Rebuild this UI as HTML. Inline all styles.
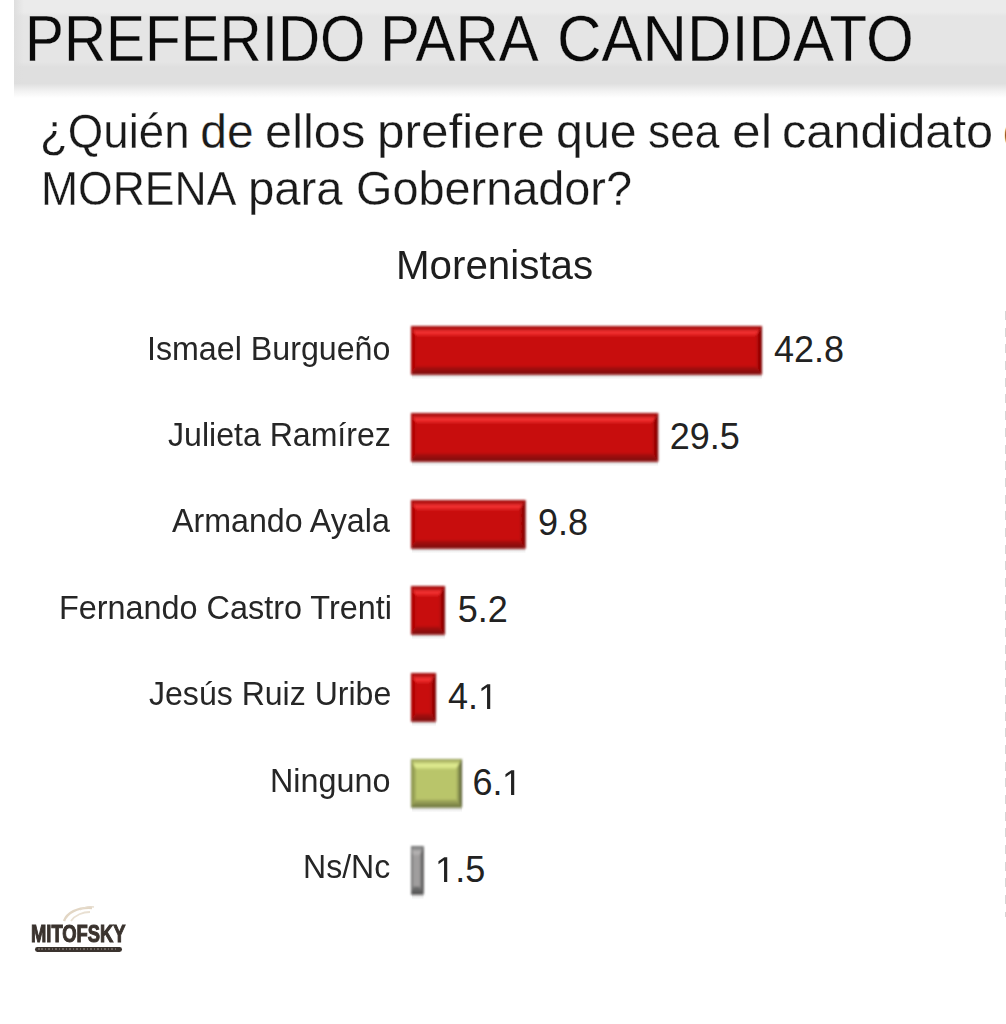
<!DOCTYPE html>
<html><head><meta charset="utf-8"><style>
html,body{margin:0;padding:0;background:#fff;}
body{width:1006px;height:1024px;position:relative;overflow:hidden;font-family:"Liberation Sans",sans-serif;}
.band{position:absolute;left:13.5px;top:0;width:1000px;height:84px;background:linear-gradient(#ebebeb 0,#ebebeb 12px,#e5e5e5 16px,#e5e5e5 62px,#dfdfdf 67px,#dfdfdf 84px);}
.band:before{content:"";position:absolute;left:0;top:0;width:10px;height:84px;background:linear-gradient(90deg,#dedede,rgba(230,230,230,0));}
.shadow{position:absolute;left:13.5px;top:84px;width:1000px;height:14px;background:linear-gradient(#e0e0e0,#f2f2f2 50%,#fff);}
.bar{position:absolute;}
.r{background:linear-gradient(#a80a0a 0px,#d21a1a 2px,#f23030 5px,#e42222 9px,#c80808 13px,#c80808 calc(100% - 12px),#b31010 calc(100% - 7px),#8c0a0a calc(100% - 2px),#700808 100%);}
.r:before{content:"";position:absolute;left:0;top:0;bottom:0;width:4px;background:linear-gradient(90deg,#8a0606,rgba(200,8,8,0));}
.r:after{content:"";position:absolute;right:0;top:0;bottom:0;width:4px;background:linear-gradient(270deg,#7a0606,rgba(200,8,8,0));}
.g{background:linear-gradient(#a8b060 0px,#c8d478 2px,#e2ee92 5px,#d4e080 9px,#b9c56a 13px,#b9c56a calc(100% - 12px),#a0aa58 calc(100% - 7px),#80884a calc(100% - 2px),#6e7640 100%);}
.g:before{content:"";position:absolute;left:0;top:0;bottom:0;width:4px;background:linear-gradient(90deg,#8e9650,rgba(185,197,106,0));}
.g:after{content:"";position:absolute;right:0;top:0;bottom:0;width:5px;background:linear-gradient(270deg,#4c5230,rgba(185,197,106,0));}
.k{background:linear-gradient(90deg,#6e6e6e 0,#8a8a8a 2px,#9c9a9a 3px,#9a9898 6px,#5a5a5a 8px,#444 100%);}
.k:after{content:'';position:absolute;left:0;right:0;bottom:0;height:4px;background:linear-gradient(rgba(60,60,60,0),rgba(60,60,60,0.7));}
.bs{position:absolute;height:5px;background:linear-gradient(rgba(0,0,0,0.12),rgba(0,0,0,0));}
</style></head><body>
<div class="band"></div><div class="shadow"></div>
<div style="position:absolute;top:6.92px;font-size:64px;line-height:64px;color:#0a0a0a;white-space:nowrap;left:24.79px;transform:scaleX(0.9118);transform-origin:0 0;-webkit-text-stroke:0.3px #e5e5e5;">PREFERIDO</div>
<div style="position:absolute;top:6.92px;font-size:64px;line-height:64px;color:#0a0a0a;white-space:nowrap;left:380.46px;transform:scaleX(0.9357);transform-origin:0 0;-webkit-text-stroke:0.3px #e5e5e5;">PARA</div>
<div style="position:absolute;top:6.92px;font-size:64px;line-height:64px;color:#0a0a0a;white-space:nowrap;left:557.22px;transform:scaleX(0.9616);transform-origin:0 0;-webkit-text-stroke:0.3px #e5e5e5;">CANDIDATO</div>
<div style="position:absolute;top:107.57px;font-size:48px;line-height:48px;color:#1a1a1a;white-space:nowrap;left:40.38px;transform:scaleX(0.9505);transform-origin:0 0;-webkit-text-stroke:0.3px #fff;">¿Quién</div>
<div style="position:absolute;top:107.57px;font-size:48px;line-height:48px;color:#1a1a1a;white-space:nowrap;left:200.31px;transform:scaleX(1.0000);transform-origin:0 0;-webkit-text-stroke:0.3px #fff;">de</div>
<div style="position:absolute;top:107.57px;font-size:48px;line-height:48px;color:#1a1a1a;white-space:nowrap;left:264.88px;transform:scaleX(1.0164);transform-origin:0 0;-webkit-text-stroke:0.3px #fff;">ellos</div>
<div style="position:absolute;top:107.57px;font-size:48px;line-height:48px;color:#1a1a1a;white-space:nowrap;left:377.03px;transform:scaleX(1.0307);transform-origin:0 0;-webkit-text-stroke:0.3px #fff;">prefiere</div>
<div style="position:absolute;top:107.57px;font-size:48px;line-height:48px;color:#1a1a1a;white-space:nowrap;left:556.10px;transform:scaleX(1.0071);transform-origin:0 0;-webkit-text-stroke:0.3px #fff;">que</div>
<div style="position:absolute;top:107.57px;font-size:48px;line-height:48px;color:#1a1a1a;white-space:nowrap;left:647.63px;transform:scaleX(0.9242);transform-origin:0 0;-webkit-text-stroke:0.3px #fff;">sea</div>
<div style="position:absolute;top:107.57px;font-size:48px;line-height:48px;color:#1a1a1a;white-space:nowrap;left:732.36px;transform:scaleX(1.0737);transform-origin:0 0;-webkit-text-stroke:0.3px #fff;">el</div>
<div style="position:absolute;top:107.57px;font-size:48px;line-height:48px;color:#1a1a1a;white-space:nowrap;left:782.38px;transform:scaleX(1.0136);transform-origin:0 0;-webkit-text-stroke:0.3px #fff;">candidato</div>
<div style="position:absolute;top:107.57px;font-size:48px;line-height:48px;color:#1a1a1a;white-space:nowrap;left:1003.00px;-webkit-text-stroke:0.3px #fff;">de</div>
<div style="position:absolute;top:164.67px;font-size:48px;line-height:48px;color:#1a1a1a;white-space:nowrap;left:41.38px;transform:scaleX(0.9272);transform-origin:0 0;-webkit-text-stroke:0.3px #fff;">MORENA</div>
<div style="position:absolute;top:164.67px;font-size:48px;line-height:48px;color:#1a1a1a;white-space:nowrap;left:247.78px;transform:scaleX(0.9851);transform-origin:0 0;-webkit-text-stroke:0.3px #fff;">para</div>
<div style="position:absolute;top:164.67px;font-size:48px;line-height:48px;color:#1a1a1a;white-space:nowrap;left:355.51px;transform:scaleX(0.9757);transform-origin:0 0;-webkit-text-stroke:0.3px #fff;">Gobernador?</div>
<div style="position:absolute;top:245.34px;font-size:40px;line-height:40px;color:#1e1e1e;white-space:nowrap;left:396.27px;transform:scaleX(1.0079);transform-origin:0 0;">Morenistas</div>
<div style="position:absolute;top:332.66px;font-size:32.3px;line-height:32.3px;color:#262626;white-space:nowrap;left:147.32px;transform:scaleX(0.9970);transform-origin:0 0;">Ismael Burgueño</div>
<svg style="position:absolute;left:406.80px;top:322.40px;overflow:visible" width="358.90" height="60.50">
<defs>
<linearGradient id="b0t" x1="0" y1="0" x2="0" y2="1"><stop offset="0" stop-color="#b01010"/><stop offset="0.25" stop-color="#b01010"/><stop offset="0.6" stop-color="#f63434"/><stop offset="1" stop-color="#d81a1a"/></linearGradient>
<linearGradient id="b0b" x1="0" y1="0" x2="0" y2="1"><stop offset="0" stop-color="#b01212"/><stop offset="1" stop-color="#7a0808"/></linearGradient>
<linearGradient id="b0r" x1="0" y1="0" x2="1" y2="0"><stop offset="0" stop-color="#c80808"/><stop offset="1" stop-color="#6e0404"/></linearGradient>
<linearGradient id="b0s" x1="0" y1="0" x2="0" y2="1"><stop offset="0" stop-color="#000" stop-opacity="0.13"/><stop offset="1" stop-color="#000" stop-opacity="0"/></linearGradient>
<filter id="b0f" x="-20%" y="-20%" width="140%" height="140%"><feGaussianBlur stdDeviation="0.85"/></filter>
</defs>
<rect x="5.00" y="52.50" width="349.90" height="5" fill="url(#b0s)"/>
<g transform="translate(4,4)" filter="url(#b0f)">
<rect x="0" y="0" width="350.90" height="48.50" fill="#c80808"/>
<polygon points="0,0 350.90,0 344.90,10.0 4.50,10.0" fill="url(#b0t)"/>
<polygon points="0,0 4.50,10.0 4.50,40.50 0,48.50" fill="#b40606"/>
<polygon points="350.90,0 350.90,48.50 344.90,40.50 344.90,10.0" fill="url(#b0r)"/>
<polygon points="0,48.50 4.50,40.50 344.90,40.50 350.90,48.50" fill="url(#b0b)"/>
<rect x="0.5" y="0.5" width="349.90" height="47.50" fill="none" stroke="#7a0000" stroke-opacity="0.35" stroke-width="1"/>
</g></svg>
<div style="position:absolute;top:332.38px;font-size:36px;line-height:36px;color:#222;white-space:nowrap;left:773.90px;">42.8</div>
<div style="position:absolute;top:419.06px;font-size:32.3px;line-height:32.3px;color:#262626;white-space:nowrap;left:168.22px;transform:scaleX(0.9932);transform-origin:0 0;">Julieta Ramírez</div>
<svg style="position:absolute;left:406.80px;top:408.80px;overflow:visible" width="255.10" height="60.50">
<defs>
<linearGradient id="b1t" x1="0" y1="0" x2="0" y2="1"><stop offset="0" stop-color="#b01010"/><stop offset="0.25" stop-color="#b01010"/><stop offset="0.6" stop-color="#f63434"/><stop offset="1" stop-color="#d81a1a"/></linearGradient>
<linearGradient id="b1b" x1="0" y1="0" x2="0" y2="1"><stop offset="0" stop-color="#b01212"/><stop offset="1" stop-color="#7a0808"/></linearGradient>
<linearGradient id="b1r" x1="0" y1="0" x2="1" y2="0"><stop offset="0" stop-color="#c80808"/><stop offset="1" stop-color="#6e0404"/></linearGradient>
<linearGradient id="b1s" x1="0" y1="0" x2="0" y2="1"><stop offset="0" stop-color="#000" stop-opacity="0.13"/><stop offset="1" stop-color="#000" stop-opacity="0"/></linearGradient>
<filter id="b1f" x="-20%" y="-20%" width="140%" height="140%"><feGaussianBlur stdDeviation="0.85"/></filter>
</defs>
<rect x="5.00" y="52.50" width="246.10" height="5" fill="url(#b1s)"/>
<g transform="translate(4,4)" filter="url(#b1f)">
<rect x="0" y="0" width="247.10" height="48.50" fill="#c80808"/>
<polygon points="0,0 247.10,0 241.10,10.0 4.50,10.0" fill="url(#b1t)"/>
<polygon points="0,0 4.50,10.0 4.50,40.50 0,48.50" fill="#b40606"/>
<polygon points="247.10,0 247.10,48.50 241.10,40.50 241.10,10.0" fill="url(#b1r)"/>
<polygon points="0,48.50 4.50,40.50 241.10,40.50 247.10,48.50" fill="url(#b1b)"/>
<rect x="0.5" y="0.5" width="246.10" height="47.50" fill="none" stroke="#7a0000" stroke-opacity="0.35" stroke-width="1"/>
</g></svg>
<div style="position:absolute;top:418.78px;font-size:36px;line-height:36px;color:#222;white-space:nowrap;left:669.80px;">29.5</div>
<div style="position:absolute;top:505.46px;font-size:32.3px;line-height:32.3px;color:#262626;white-space:nowrap;left:171.72px;transform:scaleX(0.9970);transform-origin:0 0;">Armando Ayala</div>
<svg style="position:absolute;left:406.80px;top:495.50px;overflow:visible" width="122.40" height="60.50">
<defs>
<linearGradient id="b2t" x1="0" y1="0" x2="0" y2="1"><stop offset="0" stop-color="#b01010"/><stop offset="0.25" stop-color="#b01010"/><stop offset="0.6" stop-color="#f63434"/><stop offset="1" stop-color="#d81a1a"/></linearGradient>
<linearGradient id="b2b" x1="0" y1="0" x2="0" y2="1"><stop offset="0" stop-color="#b01212"/><stop offset="1" stop-color="#7a0808"/></linearGradient>
<linearGradient id="b2r" x1="0" y1="0" x2="1" y2="0"><stop offset="0" stop-color="#c80808"/><stop offset="1" stop-color="#6e0404"/></linearGradient>
<linearGradient id="b2s" x1="0" y1="0" x2="0" y2="1"><stop offset="0" stop-color="#000" stop-opacity="0.13"/><stop offset="1" stop-color="#000" stop-opacity="0"/></linearGradient>
<filter id="b2f" x="-20%" y="-20%" width="140%" height="140%"><feGaussianBlur stdDeviation="0.85"/></filter>
</defs>
<rect x="5.00" y="52.50" width="113.40" height="5" fill="url(#b2s)"/>
<g transform="translate(4,4)" filter="url(#b2f)">
<rect x="0" y="0" width="114.40" height="48.50" fill="#c80808"/>
<polygon points="0,0 114.40,0 108.40,10.0 4.50,10.0" fill="url(#b2t)"/>
<polygon points="0,0 4.50,10.0 4.50,40.50 0,48.50" fill="#b40606"/>
<polygon points="114.40,0 114.40,48.50 108.40,40.50 108.40,10.0" fill="url(#b2r)"/>
<polygon points="0,48.50 4.50,40.50 108.40,40.50 114.40,48.50" fill="url(#b2b)"/>
<rect x="0.5" y="0.5" width="113.40" height="47.50" fill="none" stroke="#7a0000" stroke-opacity="0.35" stroke-width="1"/>
</g></svg>
<div style="position:absolute;top:505.48px;font-size:36px;line-height:36px;color:#222;white-space:nowrap;left:538.00px;">9.8</div>
<div style="position:absolute;top:591.86px;font-size:32.3px;line-height:32.3px;color:#262626;white-space:nowrap;left:58.73px;transform:scaleX(1.0025);transform-origin:0 0;">Fernando Castro Trenti</div>
<svg style="position:absolute;left:406.80px;top:582.10px;overflow:visible" width="41.90" height="60.50">
<defs>
<linearGradient id="b3t" x1="0" y1="0" x2="0" y2="1"><stop offset="0" stop-color="#b01010"/><stop offset="0.25" stop-color="#b01010"/><stop offset="0.6" stop-color="#f63434"/><stop offset="1" stop-color="#d81a1a"/></linearGradient>
<linearGradient id="b3b" x1="0" y1="0" x2="0" y2="1"><stop offset="0" stop-color="#b01212"/><stop offset="1" stop-color="#7a0808"/></linearGradient>
<linearGradient id="b3r" x1="0" y1="0" x2="1" y2="0"><stop offset="0" stop-color="#c80808"/><stop offset="1" stop-color="#6e0404"/></linearGradient>
<linearGradient id="b3s" x1="0" y1="0" x2="0" y2="1"><stop offset="0" stop-color="#000" stop-opacity="0.13"/><stop offset="1" stop-color="#000" stop-opacity="0"/></linearGradient>
<filter id="b3f" x="-20%" y="-20%" width="140%" height="140%"><feGaussianBlur stdDeviation="0.85"/></filter>
</defs>
<rect x="5.00" y="52.50" width="32.90" height="5" fill="url(#b3s)"/>
<g transform="translate(4,4)" filter="url(#b3f)">
<rect x="0" y="0" width="33.90" height="48.50" fill="#c80808"/>
<polygon points="0,0 33.90,0 27.90,10.0 4.50,10.0" fill="url(#b3t)"/>
<polygon points="0,0 4.50,10.0 4.50,40.50 0,48.50" fill="#b40606"/>
<polygon points="33.90,0 33.90,48.50 27.90,40.50 27.90,10.0" fill="url(#b3r)"/>
<polygon points="0,48.50 4.50,40.50 27.90,40.50 33.90,48.50" fill="url(#b3b)"/>
<rect x="0.5" y="0.5" width="32.90" height="47.50" fill="none" stroke="#7a0000" stroke-opacity="0.35" stroke-width="1"/>
</g></svg>
<div style="position:absolute;top:592.08px;font-size:36px;line-height:36px;color:#222;white-space:nowrap;left:457.70px;">5.2</div>
<div style="position:absolute;top:678.26px;font-size:32.3px;line-height:32.3px;color:#262626;white-space:nowrap;left:148.62px;transform:scaleX(0.9924);transform-origin:0 0;">Jesús Ruiz Uribe</div>
<svg style="position:absolute;left:406.80px;top:668.70px;overflow:visible" width="33.00" height="60.50">
<defs>
<linearGradient id="b4t" x1="0" y1="0" x2="0" y2="1"><stop offset="0" stop-color="#b01010"/><stop offset="0.25" stop-color="#b01010"/><stop offset="0.6" stop-color="#f63434"/><stop offset="1" stop-color="#d81a1a"/></linearGradient>
<linearGradient id="b4b" x1="0" y1="0" x2="0" y2="1"><stop offset="0" stop-color="#b01212"/><stop offset="1" stop-color="#7a0808"/></linearGradient>
<linearGradient id="b4r" x1="0" y1="0" x2="1" y2="0"><stop offset="0" stop-color="#c80808"/><stop offset="1" stop-color="#6e0404"/></linearGradient>
<linearGradient id="b4s" x1="0" y1="0" x2="0" y2="1"><stop offset="0" stop-color="#000" stop-opacity="0.13"/><stop offset="1" stop-color="#000" stop-opacity="0"/></linearGradient>
<filter id="b4f" x="-20%" y="-20%" width="140%" height="140%"><feGaussianBlur stdDeviation="0.85"/></filter>
</defs>
<rect x="5.00" y="52.50" width="24.00" height="5" fill="url(#b4s)"/>
<g transform="translate(4,4)" filter="url(#b4f)">
<rect x="0" y="0" width="25.00" height="48.50" fill="#c80808"/>
<polygon points="0,0 25.00,0 19.00,10.0 4.50,10.0" fill="url(#b4t)"/>
<polygon points="0,0 4.50,10.0 4.50,40.50 0,48.50" fill="#b40606"/>
<polygon points="25.00,0 25.00,48.50 19.00,40.50 19.00,10.0" fill="url(#b4r)"/>
<polygon points="0,48.50 4.50,40.50 19.00,40.50 25.00,48.50" fill="url(#b4b)"/>
<rect x="0.5" y="0.5" width="24.00" height="47.50" fill="none" stroke="#7a0000" stroke-opacity="0.35" stroke-width="1"/>
</g></svg>
<div style="position:absolute;top:678.68px;font-size:36px;line-height:36px;color:#222;white-space:nowrap;left:448.10px;">4.<svg style="display:inline-block;vertical-align:baseline" width="20.021" height="24.961" viewBox="0 0 1139 1420"><path transform="translate(0,1420) scale(1,-1)" d="M515 0 L515 1237 L197 1010 L197 1180 L530 1409 L696 1409 L696 0 Z" fill="#222"/></svg></div>
<div style="position:absolute;top:764.66px;font-size:32.3px;line-height:32.3px;color:#262626;white-space:nowrap;left:270.33px;transform:scaleX(1.0012);transform-origin:0 0;">Ninguno</div>
<svg style="position:absolute;left:406.80px;top:754.80px;overflow:visible" width="59.00" height="60.50">
<defs>
<linearGradient id="b5t" x1="0" y1="0" x2="0" y2="1"><stop offset="0" stop-color="#b0ba68"/><stop offset="0.25" stop-color="#b0ba68"/><stop offset="0.6" stop-color="#e4f094"/><stop offset="1" stop-color="#c8d47a"/></linearGradient>
<linearGradient id="b5b" x1="0" y1="0" x2="0" y2="1"><stop offset="0" stop-color="#a8b060"/><stop offset="1" stop-color="#6e7640"/></linearGradient>
<linearGradient id="b5r" x1="0" y1="0" x2="1" y2="0"><stop offset="0" stop-color="#b9c56a"/><stop offset="1" stop-color="#4e5432"/></linearGradient>
<linearGradient id="b5s" x1="0" y1="0" x2="0" y2="1"><stop offset="0" stop-color="#000" stop-opacity="0.13"/><stop offset="1" stop-color="#000" stop-opacity="0"/></linearGradient>
<filter id="b5f" x="-20%" y="-20%" width="140%" height="140%"><feGaussianBlur stdDeviation="0.85"/></filter>
</defs>
<rect x="5.00" y="52.50" width="50.00" height="5" fill="url(#b5s)"/>
<g transform="translate(4,4)" filter="url(#b5f)">
<rect x="0" y="0" width="51.00" height="48.50" fill="#b9c56a"/>
<polygon points="0,0 51.00,0 45.00,10.0 4.50,10.0" fill="url(#b5t)"/>
<polygon points="0,0 4.50,10.0 4.50,40.50 0,48.50" fill="#98a254"/>
<polygon points="51.00,0 51.00,48.50 45.00,40.50 45.00,10.0" fill="url(#b5r)"/>
<polygon points="0,48.50 4.50,40.50 45.00,40.50 51.00,48.50" fill="url(#b5b)"/>
<rect x="0.5" y="0.5" width="50.00" height="47.50" fill="none" stroke="#50552f" stroke-opacity="0.35" stroke-width="1"/>
</g></svg>
<div style="position:absolute;top:764.78px;font-size:36px;line-height:36px;color:#222;white-space:nowrap;left:472.40px;">6.<svg style="display:inline-block;vertical-align:baseline" width="20.021" height="24.961" viewBox="0 0 1139 1420"><path transform="translate(0,1420) scale(1,-1)" d="M515 0 L515 1237 L197 1010 L197 1180 L530 1409 L696 1409 L696 0 Z" fill="#222"/></svg></div>
<div style="position:absolute;top:851.06px;font-size:32.3px;line-height:32.3px;color:#262626;white-space:nowrap;left:303.16px;transform:scaleX(0.9919);transform-origin:0 0;">Ns/Nc</div>
<svg style="position:absolute;left:406.80px;top:842.10px;overflow:visible" width="20.50" height="60.50">
<defs>
<linearGradient id="b6t" x1="0" y1="0" x2="0" y2="1"><stop offset="0" stop-color="#8a8a8a"/><stop offset="0.25" stop-color="#8a8a8a"/><stop offset="0.6" stop-color="#b8b6b6"/><stop offset="1" stop-color="#a4a2a2"/></linearGradient>
<linearGradient id="b6b" x1="0" y1="0" x2="0" y2="1"><stop offset="0" stop-color="#767676"/><stop offset="1" stop-color="#505050"/></linearGradient>
<linearGradient id="b6r" x1="0" y1="0" x2="1" y2="0"><stop offset="0" stop-color="#a09e9e"/><stop offset="1" stop-color="#3c3c3c"/></linearGradient>
<linearGradient id="b6s" x1="0" y1="0" x2="0" y2="1"><stop offset="0" stop-color="#000" stop-opacity="0.13"/><stop offset="1" stop-color="#000" stop-opacity="0"/></linearGradient>
<filter id="b6f" x="-20%" y="-20%" width="140%" height="140%"><feGaussianBlur stdDeviation="0.85"/></filter>
</defs>
<rect x="5.00" y="52.50" width="11.50" height="5" fill="url(#b6s)"/>
<g transform="translate(4,4)" filter="url(#b6f)">
<rect x="0" y="0" width="12.50" height="48.50" fill="#a09e9e"/>
<polygon points="0,0 12.50,0 8.38,10.0 2.25,10.0" fill="url(#b6t)"/>
<polygon points="0,0 2.25,10.0 2.25,40.50 0,48.50" fill="#858585"/>
<polygon points="12.50,0 12.50,48.50 8.38,40.50 8.38,10.0" fill="url(#b6r)"/>
<polygon points="0,48.50 2.25,40.50 8.38,40.50 12.50,48.50" fill="url(#b6b)"/>
<rect x="0.5" y="0.5" width="11.50" height="47.50" fill="none" stroke="#404040" stroke-opacity="0.35" stroke-width="1"/>
</g></svg>
<div style="position:absolute;top:852.08px;font-size:36px;line-height:36px;color:#222;white-space:nowrap;left:435.30px;"><svg style="display:inline-block;vertical-align:baseline" width="20.021" height="24.961" viewBox="0 0 1139 1420"><path transform="translate(0,1420) scale(1,-1)" d="M515 0 L515 1237 L197 1010 L197 1180 L530 1409 L696 1409 L696 0 Z" fill="#222"/></svg>.5</div>
<div style="position:absolute;left:31.0px;top:922.3px;font-weight:bold;font-size:24.5px;line-height:24.5px;color:#3a332e;-webkit-text-stroke:1.1px #3a332e;transform:scaleX(0.75);transform-origin:0 0;">MITOFSKY</div>
<div style="position:absolute;left:34.8px;top:946.8px;width:87px;height:4.8px;border-radius:2.4px;background:#3a332e;"></div>
<div style="position:absolute;left:38px;top:948.4px;width:80px;height:1.6px;background:repeating-linear-gradient(90deg,#6a625c 0 1.5px,transparent 1.5px 3.5px);"></div>
<svg style="position:absolute;left:58px;top:902px" width="44" height="24" viewBox="0 0 44 24"><defs><filter id="lf"><feGaussianBlur stdDeviation="0.6"/></filter></defs><g filter="url(#lf)"><path d="M6 19 C9 11 19 5 34 6" stroke="#e2d6c4" stroke-width="2.4" fill="none"/><path d="M13 19 C17 13 25 10 32 10" stroke="#e9e0d2" stroke-width="1.8" fill="none"/><path d="M22 8 C26 5 31 4 36 5" stroke="#e6dccd" stroke-width="1.4" fill="none"/></g></svg>
<div style="position:absolute;left:1004.6px;top:311px;width:1.4px;height:606px;background:repeating-linear-gradient(#d6d6d6 0 9px,transparent 9px 16.69px);"></div>
</body></html>
